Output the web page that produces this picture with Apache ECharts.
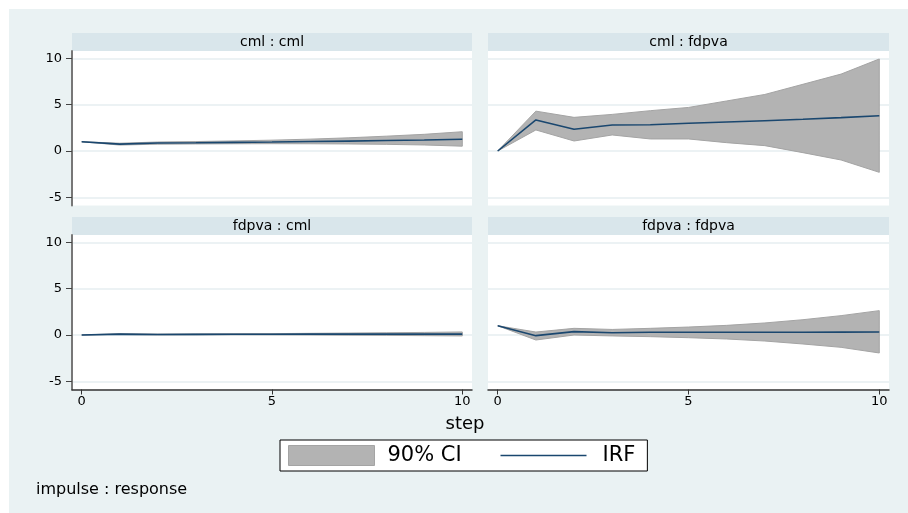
<!DOCTYPE html>
<html><head><meta charset="utf-8">
<script src="https://cdn.jsdelivr.net/npm/echarts@6/dist/echarts.min.js"></script>
<style>html,body{margin:0;padding:0;background:#fff}#c{width:908px;height:513px}</style>
</head><body><div id="c"></div>
<script>
// ---------- data ----------
const steps = [0,1,2,3,4,5,6,7,8,9,10];
const panelTitles = ['cml : cml','cml : fdpva','fdpva : cml','fdpva : fdpva'];
const yTicks = [-5,0,5,10];
const xTicks = [0,5,10];

// cml : cml
const irf_cml_cml = [1.0, 0.74, 0.86, 0.89, 0.93, 0.97, 1.02, 1.07, 1.13, 1.19, 1.27];
const lo_cml_cml  = [1.0, 0.64, 0.74, 0.76, 0.78, 0.79, 0.78, 0.76, 0.72, 0.65, 0.52];
const hi_cml_cml  = [1.0, 0.84, 0.97, 1.02, 1.09, 1.17, 1.28, 1.42, 1.60, 1.80, 2.08];
// cml : fdpva
const irf_cml_fdpva = [0, 3.35, 2.34, 2.80, 2.84, 3.00, 3.13, 3.27, 3.42, 3.60, 3.80];
const lo_cml_fdpva  = [0, 2.27, 1.08, 1.73, 1.30, 1.30, 0.90, 0.58, -0.18, -0.97, -2.30];
const hi_cml_fdpva  = [0, 4.30, 3.63, 3.95, 4.35, 4.70, 5.40, 6.10, 7.20, 8.30, 9.93];
// fdpva : cml
const irf_fdpva_cml = [0, 0.10, 0.05, 0.07, 0.08, 0.08, 0.09, 0.09, 0.10, 0.10, 0.10];
const lo_fdpva_cml  = [0, 0.06, 0.00, 0.02, 0.02, 0.01, 0.00, -0.02, -0.04, -0.07, -0.10];
const hi_fdpva_cml  = [0, 0.14, 0.10, 0.12, 0.14, 0.15, 0.18, 0.21, 0.24, 0.28, 0.33];
// fdpva : fdpva
const irf_fdpva_fdpva = [1.0, -0.07, 0.36, 0.25, 0.29, 0.29, 0.29, 0.30, 0.30, 0.31, 0.32];
const lo_fdpva_fdpva  = [1.0, -0.54, 0.00, -0.10, -0.18, -0.29, -0.43, -0.65, -0.97, -1.33, -1.94];
const hi_fdpva_fdpva  = [1.0, 0.32, 0.72, 0.60, 0.72, 0.86, 1.04, 1.30, 1.65, 2.09, 2.63];

const panels = [
  {irf: irf_cml_cml, lo: lo_cml_cml, hi: hi_cml_cml},
  {irf: irf_cml_fdpva, lo: lo_cml_fdpva, hi: hi_cml_fdpva},
  {irf: irf_fdpva_cml, lo: lo_fdpva_cml, hi: hi_fdpva_cml},
  {irf: irf_fdpva_fdpva, lo: lo_fdpva_fdpva, hi: hi_fdpva_fdpva}
];

// ---------- layout / style ----------
const FONT = 'DejaVu Sans';
const BG = '#EAF2F3', STRIP = '#D9E6EB', GRIDC = '#E6EEF0';
const CI_FILL = '#B3B3B3', CI_EDGE = '#A4A4A4', IRF_C = '#1A476F';
const boxes = [
  {left: 72,  top: 51,  width: 400, height: 154.5},
  {left: 488, top: 51,  width: 401, height: 154.5},
  {left: 72,  top: 235, width: 400, height: 154.5},
  {left: 488, top: 235, width: 401, height: 154.5}
];
const X_MIN = -0.255, X_MAX = 10.255, Y_MIN = -5.88, Y_MAX = 10.79;

const chart = echarts.init(document.getElementById('c'), null, {renderer: 'canvas'});

const grids = [], xAxes = [], yAxes = [], series = [], graphics = [];

graphics.push({type: 'rect', x: 9, y: 9, shape: {width: 899, height: 504}, style: {fill: BG}, z: -10, silent: true});

boxes.forEach((b, i) => {
  const isLeft = (i % 2 === 0), isBottom = (i >= 2);
  grids.push({left: b.left, top: b.top, width: b.width, height: b.height,
    show: true, backgroundColor: '#fff', borderWidth: 0, containLabel: false});
  graphics.push({type: 'rect', x: b.left, y: b.top - 18, shape: {width: b.width, height: 18},
    style: {fill: STRIP}, z: -5, silent: true});
  graphics.push({type: 'text', x: b.left + b.width / 2, y: b.top - 9,
    style: {text: panelTitles[i], font: '14px "' + FONT + '"', fill: '#000', align: 'center', verticalAlign: 'middle'},
    z: 5, silent: true});
  xAxes.push({type: 'value', gridIndex: i, min: X_MIN, max: X_MAX,
    axisLine: {show: isBottom, onZero: false, lineStyle: {color: '#333', width: 1.5}},
    axisTick: {show: isBottom, length: 5, customValues: xTicks, lineStyle: {color: '#333', width: 1}},
    axisLabel: {show: isBottom, customValues: xTicks, margin: 6, fontFamily: FONT, fontSize: 13, color: '#000'},
    splitLine: {show: false}});
  yAxes.push({type: 'value', gridIndex: i, min: Y_MIN, max: Y_MAX,
    axisLine: {show: isLeft, onZero: false, lineStyle: {color: '#777', width: 2}},
    axisTick: {show: isLeft, length: 6, customValues: yTicks, lineStyle: {color: '#444', width: 1}},
    axisLabel: {show: isLeft, customValues: yTicks, margin: 10, fontFamily: FONT, fontSize: 13, color: '#000'},
    splitLine: {show: true, lineStyle: {color: GRIDC, width: 1.5}}});
  const p = panels[i];
  series.push({
    name: '90% CI', type: 'custom', xAxisIndex: i, yAxisIndex: i,
    itemStyle: {color: CI_FILL, borderColor: CI_EDGE, borderWidth: 1},
    data: steps.map((s, k) => [s, p.lo[k], p.hi[k]]),
    encode: {x: 0, y: [1, 2]},
    renderItem: function (params, api) {
      if (params.dataIndex !== 0) return null;
      const pts = [];
      for (let k = 0; k < steps.length; k++) pts.push(api.coord([steps[k], p.hi[k]]));
      for (let k = steps.length - 1; k >= 0; k--) pts.push(api.coord([steps[k], p.lo[k]]));
      return {type: 'polygon', shape: {points: pts}, style: {fill: CI_FILL, stroke: CI_EDGE, lineWidth: 1}};
    },
    z: 2, silent: true
  });
  series.push({
    name: 'IRF', type: 'line', xAxisIndex: i, yAxisIndex: i,
    data: steps.map((s, k) => [s, p.irf[k]]),
    symbol: 'none', showSymbol: false, lineStyle: {color: IRF_C, width: 1.6}, itemStyle: {color: IRF_C},
    z: 3, silent: true, animation: false
  });
});

graphics.push({type: 'text', x: 465, y: 424,
  style: {text: 'step', font: '18px "' + FONT + '"', fill: '#000', align: 'center', verticalAlign: 'middle'}, silent: true});
graphics.push({type: 'text', x: 36, y: 490,
  style: {text: 'impulse : response', font: '16px "' + FONT + '"', fill: '#000', align: 'left', verticalAlign: 'middle'}, silent: true});

chart.setOption({
  animation: false,
  backgroundColor: '#fff',
  grid: grids, xAxis: xAxes, yAxis: yAxes, series: series,
  graphic: graphics,
  legend: {
    left: 280, top: 440, orient: 'horizontal',
    padding: [5, 12, 5, 8],
    itemWidth: 86, itemHeight: 20, itemGap: 38,
    borderColor: '#000', borderWidth: 1, backgroundColor: '#fff', borderRadius: 0,
    selectedMode: false,
    textStyle: {fontFamily: FONT, fontSize: 21, color: '#000'},
    data: [
      {name: '90% CI', icon: 'rect', itemStyle: {color: CI_FILL, borderColor: CI_EDGE, borderWidth: 1},
       textStyle: {padding: [0, 0, 0, 8]}},
      {name: 'IRF', itemStyle: {opacity: 0}, lineStyle: {color: IRF_C, width: 1.6},
       textStyle: {padding: [0, 0, 0, 11]}}
    ]
  }
});
</script>
</body></html>
